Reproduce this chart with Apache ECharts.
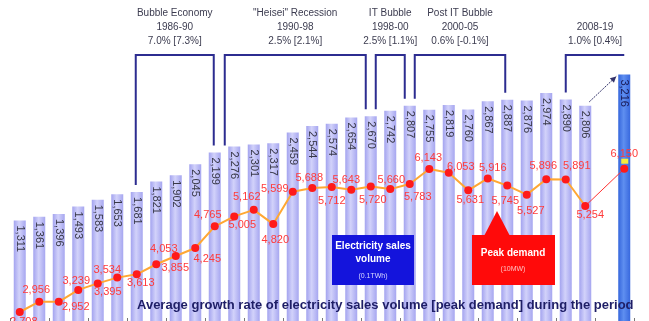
<!DOCTYPE html>
<html>
<head>
<meta charset="utf-8">
<script src="https://cdn.jsdelivr.net/npm/echarts@6/dist/echarts.min.js"></script>
<style>
html,body{margin:0;padding:0;background:#fff;}
#main{width:649px;height:321px;}
</style>
</head>
<body>
<div id="main"></div>
<script>
// fiscal years, slot 31 is the gap before the 2019 forecast
var years = ['1980','1981','1982','1983','1984','1985','1986','1987','1988','1989',
  '1990','1991','1992','1993','1994','1995','1996','1997','1998','1999',
  '2000','2001','2002','2003','2004','2005','2006','2007','2008','2009','','2019'];
// electricity sales volume (0.1TWh)
var salesVolume = [1311,1361,1396,1493,1583,1653,1681,1821,1902,2045,
  2199,2276,2301,2317,2459,2544,2574,2654,2670,2742,
  2807,2755,2819,2760,2867,2887,2876,2974,2890,2806,null,3216];
// peak demand (10MW)
var peakDemand = [2708,2956,2952,3239,3395,3534,3613,3855,4053,4245,
  4765,5005,5162,4820,5599,5688,5712,5643,5720,5660,
  5783,6143,6053,5631,5916,5745,5527,5896,5891,5254,null,6150];

// periods shown as brackets on top
var periodNames = ['Bubble Economy', '"Heisei" Recession', 'IT Bubble', 'Post IT Bubble', ''];
var periodYears = ['1986-90', '1990-98', '1998-00', '2000-05', '2008-19'];
var periodRates = ['7.0% [7.3%]', '2.5% [2.1%]', '2.5% [1.1%]', '0.6% [-0.1%]', '1.0% [0.4%]'];
var periodFrom = ['1986', '1990', '1998', '2000', '2008'];
var periodTo = ['1990', '1998', '2000', '2005', '2019'];

// label offsets of the peak demand numbers (dx, dy from the point)
var peakLabelAt = [[4,10],[-3,-12],[17,5],[-2,-9],[10,9],[-10,-8],[4,9],[19,4],[-12,-7],[12,11],
  [-7,-11],[8,9],[-7,-13],[2,16],[-18,-3],[-3,-10],[0,14],[-5,-10],[2,13],[1,-9],
  [8,13],[-1,-11],[12,-6],[2,10],[5,-10],[-2,15],[4,16],[-3,-13],[11,-14],[5,9],null,[0,-15]];

function fmt(v){
    return String(v).replace(/\B(?=(\d{3})+(?!\d))/g, ',');
}

var chart = echarts.init(document.getElementById('main'));
var FONT = '"Liberation Sans", Arial, sans-serif';

var barGrad = new echarts.graphic.LinearGradient(0,0,1,0,[
    {offset:0,color:'#a3a3ef'},{offset:0.45,color:'#d2d2fa'},{offset:1,color:'#a6a6f0'}]);
var lastGrad = new echarts.graphic.LinearGradient(0,0,1,0,[
    {offset:0,color:'#3566dc'},{offset:0.45,color:'#5f8ff0'},{offset:1,color:'#3868de'}]);

var barData = salesVolume.map(function(v,i){
    if(v == null) return null;
    if(i == salesVolume.length-1){
        return {value:v, itemStyle:{color:lastGrad}, label:{color:'#1a1a55'}};
    }
    return v;
});

var lineData = peakDemand.map(function(v,i){
    if(v == null) return null;
    var o = peakLabelAt[i];
    return {value:v, label:{offset:o}};
});

// thin red link from 2009 to the 2019 forecast
var linkData = peakDemand.map(function(v,i){
    return (i >= 29 && v != null) ? v : null;
});

option = {
    animation: false,
    backgroundColor: '#fff',
    grid: {left:10, right:15, top:68, bottom:0},
    xAxis: {
        type:'category',
        data: years,
        axisLine:{show:false},
        axisTick:{show:true, inside:true, length:3, lineStyle:{color:'#777'}},
        axisLabel:{show:false}
    },
    yAxis: [
        {type:'value', min:0, max:3300, show:false, splitLine:{show:false}},
        {type:'value', min:2492, max:8569, show:false, splitLine:{show:false}}
    ],
    series: [
        {
            name:'Electricity sales volume',
            type:'bar',
            data: barData,
            barWidth: 12,
            itemStyle:{color:barGrad},
            label:{
                show:true,
                position:'insideTop',
                distance:5,
                rotate:-90,
                align:'left',
                verticalAlign:'middle',
                fontFamily:FONT,
                fontSize:11,
                color:'#383848',
                formatter:function(p){ return fmt(p.value); }
            },
            z:1
        },
        {
            name:'link',
            type:'line',
            yAxisIndex:1,
            data: linkData,
            connectNulls:true,
            symbol:'none',
            lineStyle:{color:'#ff3030', width:1},
            z:2
        },
        {
            name:'Peak demand',
            type:'line',
            yAxisIndex:1,
            data: lineData,
            connectNulls:false,
            symbol:'circle',
            symbolSize:8,
            itemStyle:{color:'#ff1a1a'},
            lineStyle:{color:'#ffa733', width:2},
            label:{
                show:true,
                position:'inside',
                align:'center',
                verticalAlign:'middle',
                fontFamily:FONT,
                fontSize:11,
                color:'#ff3a3a',
                formatter:function(p){ return fmt(p.value); }
            },
            z:3
        }
    ]
};
chart.setOption(option);

// annotations placed from the chart's own scale
function px(i, v){ return chart.convertToPixel({seriesIndex:0}, [i, v]); }
var idx = function(y){ return years.indexOf(y); };
var graphics = [];
var NAVY = '#2c2c90';
var TOPY = 55;
var leftOff = [-1, 10, 5, 5, 0];
var rightOff = [-1, -5, -5, -2, null];
for (var k = 0; k < periodYears.length; k++){
    var a = idx(periodFrom[k]), b = idx(periodTo[k]);
    var pa = px(a, salesVolume[a]), pb = px(b, salesVolume[b]);
    var x1 = pa[0] + leftOff[k];
    var pts;
    var x2;
    if (rightOff[k] === null){
        x2 = pb[0];
        pts = [[x1, pa[1]-7], [x1, TOPY], [x2, TOPY]];
    } else {
        x2 = pb[0] + rightOff[k];
        pts = [[x1, pa[1]-7], [x1, TOPY], [x2, TOPY], [x2, pb[1]-7]];
    }
    graphics.push({type:'polyline', shape:{points:pts}, style:{stroke:NAVY, lineWidth:2, fill:null}, z:10});
    var txt = (periodNames[k] ? periodNames[k] + '\n' : '') + periodYears[k] + '\n' + periodRates[k];
    graphics.push({
        type:'text', x:(x1+x2)/2, y:48,
        style:{text:txt, font:'10px ' + FONT, fill:'#3c3c50', align:'center', verticalAlign:'bottom', lineHeight:14},
        z:10
    });
}

// dotted arrow from 2009 bar to the 2019 bar
var p30 = px(29, salesVolume[29]);
var p32 = px(31, salesVolume[31]);
var s = [p30[0]+4, p30[1]-4], e = [p32[0]-8, p32[1]+2];
graphics.push({type:'line', shape:{x1:s[0], y1:s[1], x2:e[0], y2:e[1]}, style:{stroke:'#33336a', lineWidth:1, lineDash:[2,1]}, z:10});
var ang = Math.atan2(e[1]-s[1], e[0]-s[0]);
graphics.push({type:'polygon', shape:{points:[
    [e[0], e[1]],
    [e[0]-6*Math.cos(ang)+3*Math.sin(ang), e[1]-6*Math.sin(ang)-3*Math.cos(ang)],
    [e[0]-6*Math.cos(ang)-3*Math.sin(ang), e[1]-6*Math.sin(ang)+3*Math.cos(ang)]
]}, style:{fill:'#33336a'}, z:10});

// yellow mark above the 2019 forecast point
var pf = chart.convertToPixel({seriesIndex:2}, [31, peakDemand[31]]);
graphics.push({type:'rect', shape:{x:pf[0]-3, y:pf[1]-10, width:7, height:5}, style:{fill:'#f7ec3a'}, z:10});

// legend boxes
graphics.push({type:'rect', shape:{x:332, y:235, width:82, height:50}, style:{fill:'#1414dc'}, z:10});
graphics.push({type:'text', x:373, y:253, style:{text:'Electricity sales\nvolume', font:'bold 10px ' + FONT, fill:'#fff', align:'center', verticalAlign:'middle', lineHeight:13}, z:11});
graphics.push({type:'text', x:373, y:276, style:{text:'(0.1TWh)', font:'7px ' + FONT, fill:'#d8d8ff', align:'center', verticalAlign:'middle'}, z:11});
graphics.push({type:'polygon', shape:{points:[[484,236],[497,211],[510,236]]}, style:{fill:'#ff0a0a'}, z:10});
graphics.push({type:'rect', shape:{x:472, y:235, width:83, height:50}, style:{fill:'#ff0a0a'}, z:10});
graphics.push({type:'text', x:513, y:253, style:{text:'Peak demand', font:'bold 10px ' + FONT, fill:'#fff', align:'center', verticalAlign:'middle'}, z:11});
graphics.push({type:'text', x:513, y:269, style:{text:'(10MW)', font:'7px ' + FONT, fill:'#ffc0c0', align:'center', verticalAlign:'middle'}, z:11});

// bottom caption
graphics.push({type:'text', x:137, y:305, style:{text:'Average growth rate of electricity sales volume [peak demand] during the period', font:'bold 13px ' + FONT, fill:'#1e1e66', align:'left', verticalAlign:'middle'}, z:11});

chart.setOption({graphic: graphics});
</script>
</body>
</html>
